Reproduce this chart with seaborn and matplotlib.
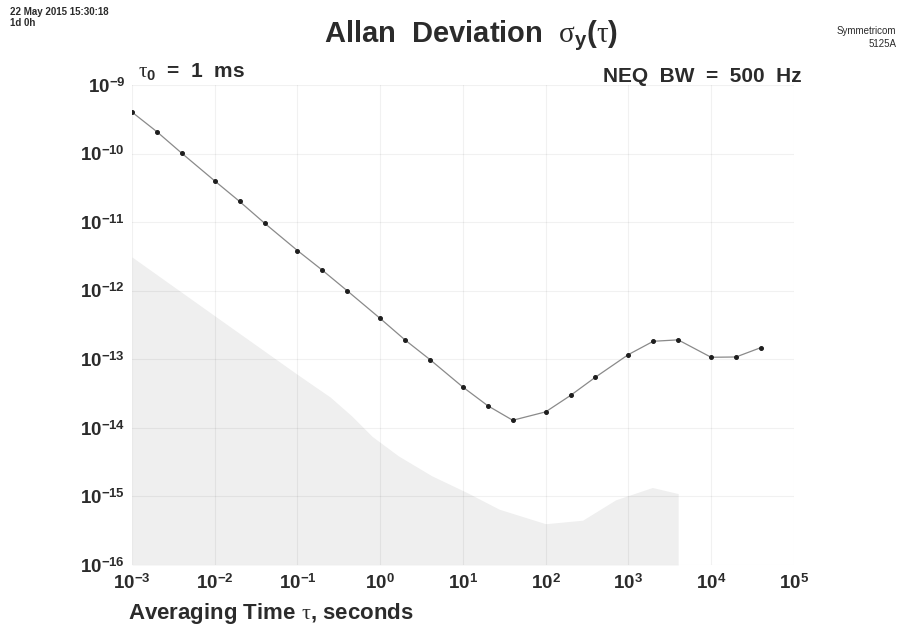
import matplotlib
matplotlib.use("Agg")
import matplotlib.pyplot as plt
import numpy as np
import pandas as pd
import seaborn as sns
from matplotlib.ticker import FixedLocator, FuncFormatter, NullLocator

# Averaging times (s) and measured Allan deviation
tau = [1e-3, 2e-3, 4e-3, 1e-2, 2e-2, 4e-2, 1e-1, 2e-1, 4e-1, 1, 2, 4, 10, 20, 40,
       100, 200, 400, 1000, 2000, 4000, 1e4, 2e4, 4e4]
adev = [4.02e-10, 2.08e-10, 1.01e-10, 3.99e-11, 2.00e-11, 9.66e-12, 3.85e-12,
        1.99e-12, 9.96e-13, 3.94e-13, 1.91e-13, 9.89e-14, 3.93e-14, 2.10e-14,
        1.29e-14, 1.71e-14, 2.97e-14, 5.48e-14, 1.17e-13, 1.83e-13, 1.92e-13,
        1.07e-13, 1.08e-13, 1.48e-13]

# Shaded instrument noise floor (upper edge)
floor_tau = [1e-3, 1e-2, 1e-1, 0.25, 0.45, 0.8, 1.66, 4.2, 11, 27.5, 100, 280, 700, 1950, 4000]
floor_adev = [3.1e-12, 4.3e-13, 6.0e-14, 2.8e-14, 1.5e-14, 7.5e-15, 3.9e-15, 2.0e-15, 1.15e-15,
              6.5e-16, 4.0e-16, 4.5e-16, 8.9e-16, 1.35e-15, 1.1e-15]

x_ticks = [1e-3, 1e-2, 1e-1, 1e0, 1e1, 1e2, 1e3, 1e4, 1e5]
y_ticks = [1e-16, 1e-15, 1e-14, 1e-13, 1e-12, 1e-11, 1e-10, 1e-9]

sns.set_theme(style="white")
plt.rcParams["font.family"] = ["Liberation Sans", "DejaVu Sans"]
plt.rcParams["mathtext.fontset"] = "custom"
plt.rcParams["mathtext.rm"] = "Liberation Sans:bold"
plt.rcParams["mathtext.bf"] = "Liberation Sans:bold"
plt.rcParams["mathtext.it"] = "Liberation Serif"
plt.rcParams["mathtext.sf"] = "Liberation Sans"
plt.rcParams["mathtext.default"] = "it"

TXT = "#2b2b2b"

fig = plt.figure(figsize=(9, 6.31), dpi=100)
ax = fig.add_axes([0.1467, 0.1046, 0.7353, 0.7607])

df = pd.DataFrame({"tau": tau, "adev": adev})
ax.fill_between(floor_tau, 1e-16, floor_adev, color="#efefef", lw=0, zorder=0)
sns.lineplot(data=df, x="tau", y="adev", ax=ax, color="#8a8a8a", lw=0.9,
             marker="o", markersize=2.8, markerfacecolor="#1e1e1e",
             markeredgecolor="#1e1e1e", zorder=3)

ax.set_xscale("log")
ax.set_yscale("log")
ax.set_xlim(1e-3, 1e5)
ax.set_ylim(1e-16, 1e-9)
ax.xaxis.set_major_locator(FixedLocator(x_ticks))
ax.yaxis.set_major_locator(FixedLocator(y_ticks))
ax.xaxis.set_minor_locator(NullLocator())
ax.yaxis.set_minor_locator(NullLocator())
fmt = FuncFormatter(lambda v, p: r"$10^{%d}$" % int(round(np.log10(v))))
ax.xaxis.set_major_formatter(fmt)
ax.yaxis.set_major_formatter(fmt)
ax.tick_params(axis="both", length=0, labelsize=13.5, labelcolor=TXT)
ax.tick_params(axis="x", pad=6)
ax.tick_params(axis="y", pad=5)
ax.grid(True, which="major", color="black", alpha=0.055, lw=0.8, zorder=1)
for s in ax.spines.values():
    s.set_visible(False)
ax.set_xlabel("")
ax.set_ylabel("")

fig.text(0.523, 0.943, r"Allan  Deviation  $\sigma_{\mathrm{y}}(\tau)$", ha="center", va="center",
         fontsize=21, fontweight="bold", color=TXT)
fig.text(0.153, 0.887, r"$\tau_0$  =  1  ms", ha="left", va="center",
         fontsize=15, fontweight="bold", color=TXT)
fig.text(0.891, 0.878, "NEQ  BW  =  500  Hz", ha="right", va="center",
         fontsize=15, fontweight="bold", color=TXT)
fig.text(0.142, 0.028, r"Averaging Time $\tau$, seconds", ha="left", va="center",
         fontsize=16, fontweight="bold", color=TXT)
fig.text(0.011, 0.981, "22 May 2015 15:30:18", ha="left", va="center",
         fontsize=7, fontweight="bold", color=TXT)
fig.text(0.011, 0.963, "1d 0h", ha="left", va="center",
         fontsize=7, fontweight="bold", color=TXT)
fig.text(0.996, 0.951, "Symmetricom", ha="right", va="center",
         fontsize=7, color=TXT)
fig.text(0.996, 0.930, "5125A", ha="right", va="center",
         fontsize=7, color=TXT)

fig.savefig("out.png", dpi=100)
